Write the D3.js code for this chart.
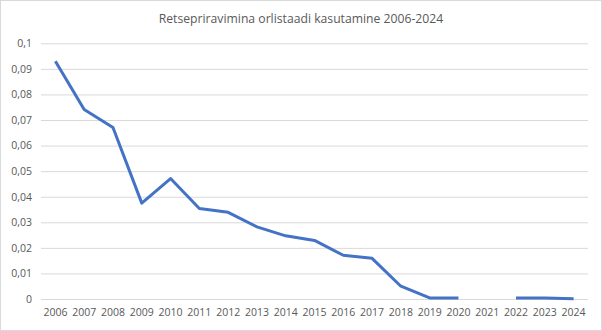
<!DOCTYPE html>
<html><head><meta charset="utf-8">
<script src="https://cdn.jsdelivr.net/npm/d3@7"></script>
<style>body{margin:0;background:#fff}svg{display:block}</style>
</head><body>
<script>
const title = "Retsepriravimina orlistaadi kasutamine 2006-2024";
const years = ["2006","2007","2008","2009","2010","2011","2012","2013","2014","2015","2016","2017","2018","2019","2020","2021","2022","2023","2024"];
const values = [0.093,0.0741,0.0671,0.0375,0.0471,0.0354,0.0339,0.0282,0.0247,0.0229,0.0171,0.0159,0.005,0.0004,0.0004,null,0.0004,0.0004,0.0001];
const yTicks = [0,0.01,0.02,0.03,0.04,0.05,0.06,0.07,0.08,0.09,0.1];

const W=602,H=331;
const svg=d3.select("body").append("svg").attr("width",W).attr("height",H);
svg.append("rect").attr("x",0.5).attr("y",0.5).attr("width",W-1).attr("height",H-1)
  .attr("fill","#fff").attr("stroke","#d9d9d9");
const font="'Open Sans', 'Liberation Sans', sans-serif";
svg.append("text").attr("x",301).attr("y",23).attr("text-anchor","middle")
  .attr("font-family",font).attr("font-size",12.2).attr("fill","#595959").text(title);

const x=d3.scaleBand().domain(years).range([41,588]);
const y=d3.scaleLinear().domain([0,0.1]).range([299,43.3]);
const fmt=d=>d3.format("")(+d.toFixed(2)).replace(".",",");

const gy=svg.append("g").attr("transform","translate(41,0)")
  .call(d3.axisLeft(y).tickValues(yTicks).tickSize(-(588-41)).tickPadding(9).tickFormat(fmt));
gy.select(".domain").remove();
gy.selectAll(".tick line").attr("stroke","#d9d9d9");
gy.selectAll(".tick text").attr("font-family",font).attr("font-size",10.5).attr("fill","#595959");

const gx=svg.append("g").attr("transform","translate(0,299)")
  .call(d3.axisBottom(x).tickSize(0).tickPadding(10));
gx.select(".domain").remove();
gx.selectAll(".tick text").attr("font-family",font).attr("font-size",10.5).attr("fill","#595959");

const data=years.map((yr,i)=>({yr,v:values[i]}));
svg.append("path").datum(data)
  .attr("fill","none").attr("stroke","#4472C4").attr("stroke-width",3)
  .attr("stroke-linejoin","round")
  .attr("d",d3.line().defined(d=>d.v!=null).x(d=>x(d.yr)+x.bandwidth()/2).y(d=>y(d.v)));
</script>
</body></html>
